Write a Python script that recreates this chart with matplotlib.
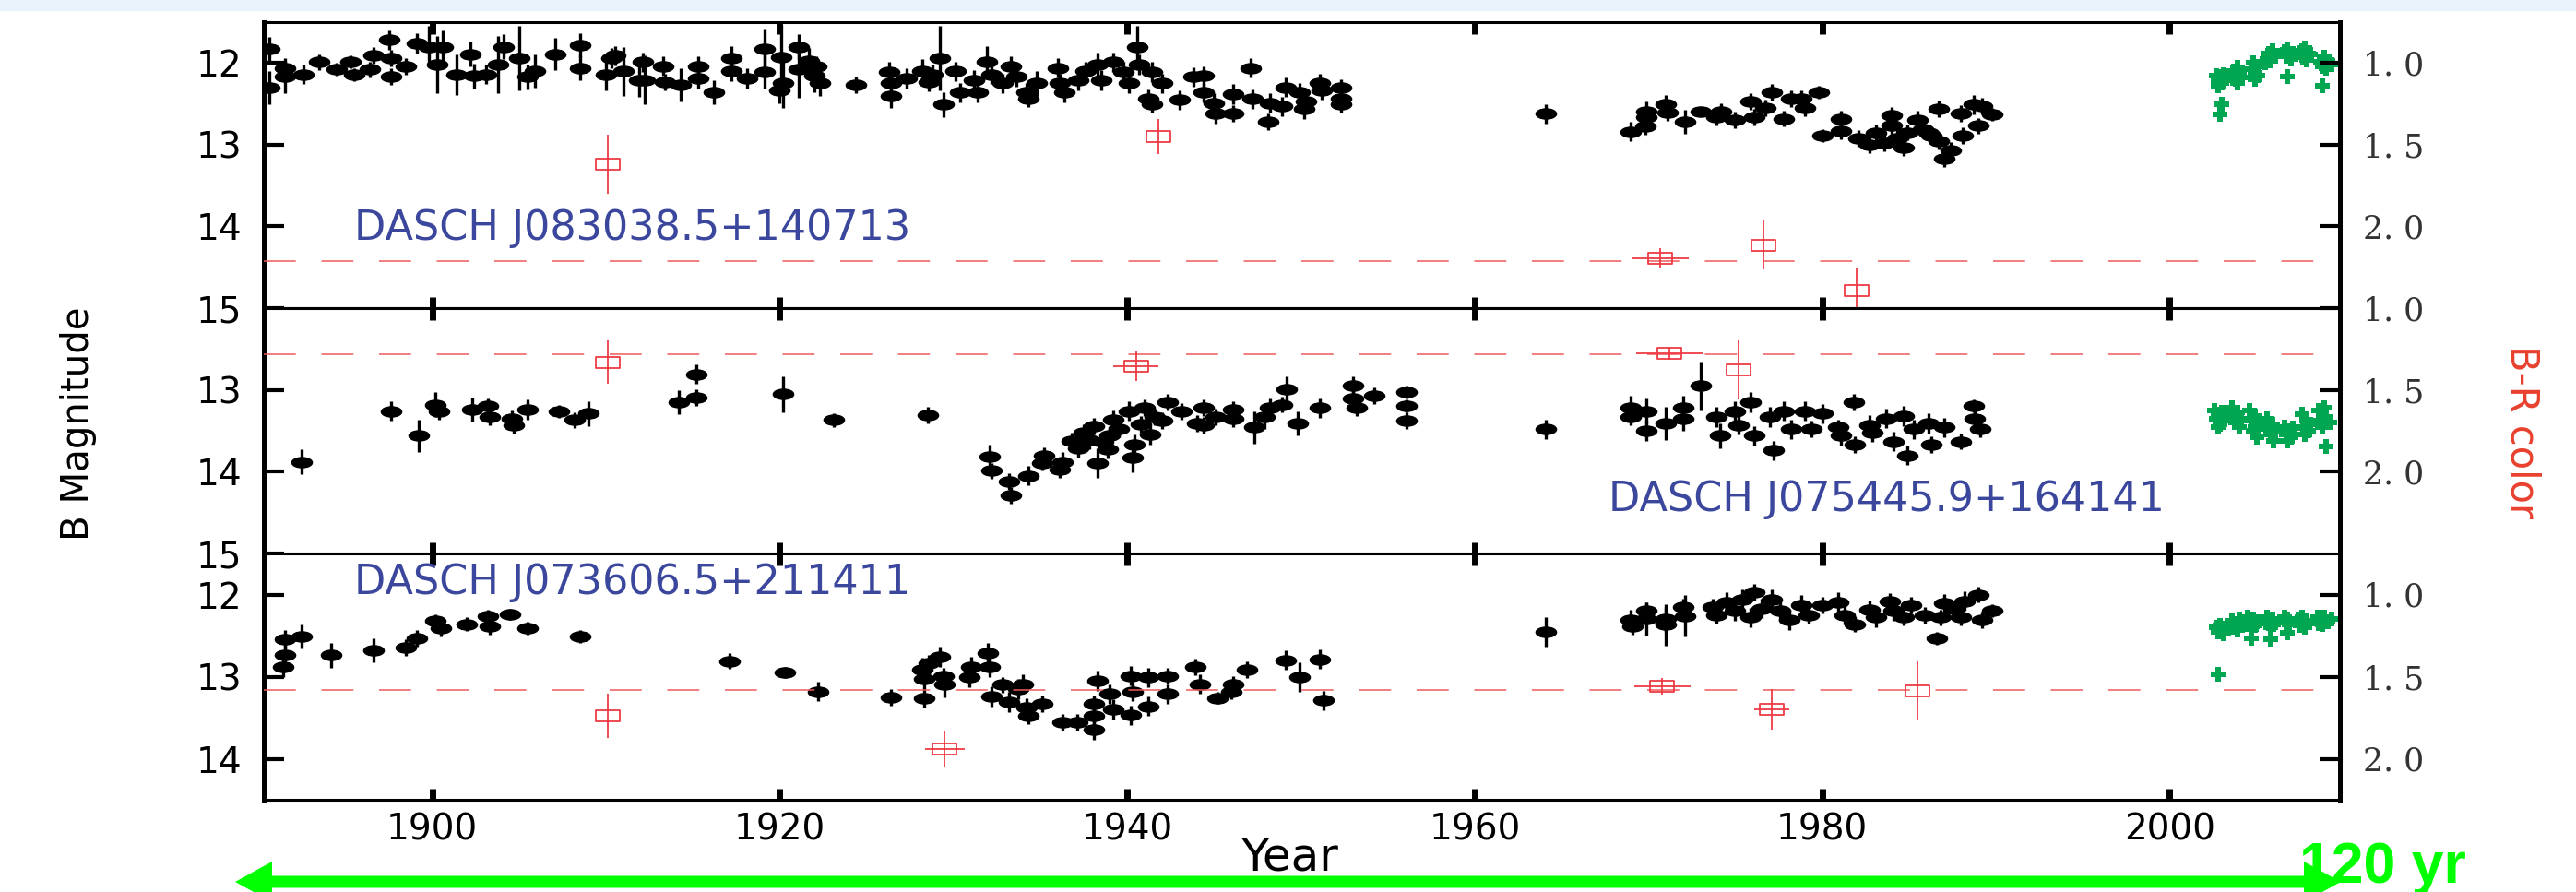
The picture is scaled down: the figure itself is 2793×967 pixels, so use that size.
import numpy as np
import matplotlib
matplotlib.use('Agg')
import matplotlib.pyplot as plt
from matplotlib.path import Path
from matplotlib.transforms import Affine2D, IdentityTransform
from matplotlib.patches import FancyArrow, Rectangle

plt.rcParams['lines.scale_dashes'] = False

# ---------------- data ----------------
# black DASCH points: (year, B mag, error)
p1_points = [
    (1890.6, 11.83, 0.15), (1890.6, 12.30, 0.20), (1891.5, 12.06, 0.12), (1891.5, 12.17, 0.20),
    (1892.6, 12.14, 0.12), (1893.5, 11.99, 0.10), (1894.5, 12.08, 0.08), (1895.3, 11.99, 0.08),
    (1895.5, 12.14, 0.08), (1896.4, 12.08, 0.10), (1896.6, 11.91, 0.10), (1897.5, 11.72, 0.12),
    (1897.6, 11.94, 0.10), (1897.6, 12.17, 0.10), (1898.5, 12.04, 0.10), (1899.1, 11.76, 0.12),
    (1899.8, 11.80, 0.25), (1900.3, 12.02, 0.35), (1900.6, 11.80, 0.20), (1901.4, 12.14, 0.25),
    (1902.2, 11.89, 0.15), (1902.4, 12.16, 0.15), (1903.1, 12.14, 0.12), (1903.8, 12.02, 0.35),
    (1904.1, 11.80, 0.15), (1905.0, 11.94, 0.40), (1905.5, 12.17, 0.15), (1905.9, 12.10, 0.20),
    (1907.1, 11.89, 0.20), (1908.5, 11.78, 0.15), (1908.5, 12.06, 0.15), (1910.0, 12.14, 0.20),
    (1910.5, 11.91, 0.12), (1911.9, 12.21, 0.20), (1910.3, 11.94, 0.12), (1911.0, 12.10, 0.30),
    (1912.1, 11.99, 0.12), (1912.2, 12.21, 0.30), (1913.3, 12.04, 0.12), (1913.4, 12.23, 0.10),
    (1914.3, 12.27, 0.20), (1915.3, 12.04, 0.12), (1915.3, 12.19, 0.12), (1916.2, 12.36, 0.15),
    (1917.2, 11.94, 0.15), (1917.2, 12.10, 0.12), (1918.1, 12.19, 0.12), (1919.1, 11.83, 0.25),
    (1919.1, 12.11, 0.20), (1920.1, 11.93, 0.40), (1920.2, 12.25, 0.30), (1920.0, 12.34, 0.15),
    (1921.1, 11.80, 0.15), (1921.1, 12.08, 0.35), (1921.7, 11.97, 0.15), (1922.0, 12.16, 0.20),
    (1922.3, 12.25, 0.15), (1922.1, 12.04, 0.12), (1924.4, 12.27, 0.10), (1926.3, 12.11, 0.12),
    (1926.4, 12.25, 0.12), (1926.4, 12.40, 0.15), (1927.3, 12.19, 0.12), (1928.2, 12.10, 0.15),
    (1928.6, 12.23, 0.12), (1929.2, 11.94, 0.40), (1929.4, 12.51, 0.15), (1928.8, 12.14, 0.12),
    (1930.1, 12.10, 0.12), (1930.4, 12.36, 0.12), (1931.2, 12.21, 0.12), (1931.4, 12.36, 0.12),
    (1931.9, 11.99, 0.20), (1932.2, 12.14, 0.12), (1932.8, 12.25, 0.12), (1933.3, 12.04, 0.12),
    (1933.6, 12.17, 0.12), (1934.2, 12.36, 0.12), (1934.3, 12.44, 0.10), (1934.8, 12.25, 0.15),
    (1936.0, 12.06, 0.12), (1936.1, 12.25, 0.12), (1936.4, 12.36, 0.12), (1937.2, 12.21, 0.12),
    (1937.6, 12.10, 0.12), (1938.3, 12.02, 0.15), (1938.5, 12.21, 0.12), (1939.2, 11.99, 0.12),
    (1939.8, 12.11, 0.12), (1940.1, 12.25, 0.12), (1940.6, 11.80, 0.25), (1940.7, 12.02, 0.12),
    (1941.2, 12.44, 0.12), (1941.4, 12.51, 0.10), (1941.4, 12.11, 0.12), (1942.0, 12.25, 0.12),
    (1943.0, 12.45, 0.12), (1943.8, 12.17, 0.12), (1944.4, 12.16, 0.12), (1944.4, 12.36, 0.12),
    (1945.0, 12.49, 0.12), (1945.1, 12.62, 0.12), (1946.1, 12.62, 0.10), (1946.1, 12.38, 0.12),
    (1947.1, 12.06, 0.12), (1947.2, 12.44, 0.12), (1948.1, 12.72, 0.10), (1948.2, 12.49, 0.12),
    (1948.9, 12.53, 0.12), (1949.1, 12.30, 0.12), (1949.9, 12.36, 0.12), (1950.2, 12.56, 0.12),
    (1950.3, 12.47, 0.12), (1951.1, 12.25, 0.12), (1951.2, 12.33, 0.12), (1952.3, 12.30, 0.10),
    (1952.3, 12.44, 0.10), (1952.3, 12.51, 0.10), (1964.1, 12.62, 0.12), (1969.0, 12.84, 0.12),
    (1969.8, 12.78, 0.10), (1969.9, 12.59, 0.12), (1969.9, 12.66, 0.12), (1971.0, 12.51, 0.12),
    (1971.1, 12.61, 0.10), (1972.1, 12.72, 0.15), (1973.0, 12.59, 0.05), (1973.9, 12.66, 0.10),
    (1974.2, 12.59, 0.10), (1975.0, 12.70, 0.10), (1975.9, 12.47, 0.10), (1976.1, 12.66, 0.10),
    (1976.7, 12.55, 0.10), (1977.1, 12.36, 0.10), (1977.8, 12.68, 0.10), (1978.2, 12.44, 0.10),
    (1978.8, 12.44, 0.10), (1979.0, 12.55, 0.10), (1979.8, 12.36, 0.08), (1980.0, 12.89, 0.08),
    (1981.1, 12.68, 0.10), (1981.1, 12.83, 0.10), (1982.1, 12.92, 0.10), (1982.7, 13.00, 0.10),
    (1983.1, 12.85, 0.10), (1983.6, 12.98, 0.10), (1984.0, 12.64, 0.10), (1984.0, 12.77, 0.12),
    (1984.3, 12.92, 0.10), (1984.7, 13.04, 0.10), (1984.9, 12.85, 0.10), (1985.5, 12.70, 0.12),
    (1985.8, 12.81, 0.10), (1986.1, 12.85, 0.10), (1986.3, 12.89, 0.10), (1986.7, 12.56, 0.10),
    (1986.7, 12.96, 0.10), (1987.0, 13.17, 0.10), (1987.4, 13.07, 0.10), (1988.0, 12.62, 0.10),
    (1988.1, 12.89, 0.10), (1988.7, 12.51, 0.12), (1989.0, 12.77, 0.10), (1989.2, 12.53, 0.10),
    (1989.8, 12.63, 0.08),
]

p2_points = [
    (1892.5, 13.88, 0.15), (1897.6, 13.26, 0.12), (1899.2, 13.56, 0.20), (1900.2, 13.18, 0.15),
    (1900.4, 13.26, 0.10), (1902.3, 13.24, 0.15), (1903.2, 13.20, 0.10), (1903.3, 13.33, 0.10),
    (1904.6, 13.35, 0.10), (1904.7, 13.43, 0.10), (1905.5, 13.24, 0.12), (1907.3, 13.26, 0.08),
    (1908.2, 13.37, 0.10), (1909.0, 13.29, 0.15), (1914.2, 13.15, 0.15), (1915.2, 12.81, 0.12),
    (1915.2, 13.09, 0.10), (1920.2, 13.05, 0.22), (1923.1, 13.37, 0.08), (1928.5, 13.31, 0.10),
    (1932.1, 13.82, 0.15), (1932.2, 13.99, 0.10), (1933.2, 14.12, 0.10), (1933.3, 14.29, 0.10),
    (1934.3, 14.05, 0.12), (1935.1, 13.89, 0.10), (1935.2, 13.80, 0.10), (1936.1, 13.97, 0.10),
    (1936.3, 13.88, 0.12), (1937.2, 13.71, 0.12), (1937.8, 13.61, 0.12), (1938.3, 13.89, 0.18),
    (1939.0, 13.56, 0.12), (1940.3, 13.83, 0.18), (1940.4, 13.67, 0.12), (1938.1, 13.44, 0.10),
    (1939.2, 13.37, 0.12), (1940.1, 13.26, 0.12), (1941.0, 13.22, 0.10), (1941.6, 13.33, 0.10),
    (1942.3, 13.15, 0.10), (1943.1, 13.26, 0.10), (1944.0, 13.41, 0.10), (1936.8, 13.62, 0.10),
    (1937.5, 13.52, 0.10), (1938.6, 13.63, 0.12), (1939.5, 13.48, 0.10), (1940.8, 13.42, 0.10),
    (1941.3, 13.55, 0.12), (1942.0, 13.38, 0.10), (1938.9, 13.72, 0.12), (1944.4, 13.22, 0.10),
    (1944.4, 13.43, 0.10), (1945.1, 13.33, 0.10), (1946.1, 13.24, 0.10), (1946.1, 13.35, 0.10),
    (1947.3, 13.46, 0.20), (1947.9, 13.33, 0.15), (1948.2, 13.22, 0.12), (1948.9, 13.18, 0.10),
    (1949.2, 12.99, 0.15), (1949.8, 13.41, 0.15), (1951.1, 13.22, 0.12), (1953.0, 12.95, 0.12),
    (1953.0, 13.10, 0.12), (1953.2, 13.22, 0.10), (1954.2, 13.07, 0.10), (1956.1, 13.03, 0.08),
    (1956.1, 13.20, 0.08), (1956.1, 13.38, 0.10), (1964.1, 13.48, 0.12), (1969.0, 13.22, 0.15),
    (1969.0, 13.33, 0.10), (1969.9, 13.26, 0.15), (1969.9, 13.50, 0.12), (1971.0, 13.41, 0.20),
    (1972.0, 13.22, 0.15), (1972.0, 13.35, 0.15), (1973.0, 12.95, 0.30), (1973.9, 13.33, 0.12),
    (1974.1, 13.56, 0.15), (1975.0, 13.26, 0.12), (1975.2, 13.43, 0.12), (1975.9, 13.15, 0.12),
    (1976.1, 13.56, 0.12), (1977.0, 13.33, 0.12), (1977.2, 13.74, 0.12), (1977.8, 13.26, 0.12),
    (1978.2, 13.48, 0.12), (1979.0, 13.26, 0.12), (1979.4, 13.48, 0.10), (1980.0, 13.29, 0.12),
    (1980.9, 13.46, 0.10), (1981.1, 13.56, 0.12), (1981.8, 13.15, 0.10), (1981.9, 13.67, 0.10),
    (1982.7, 13.43, 0.12), (1982.9, 13.52, 0.12), (1983.7, 13.35, 0.12), (1984.1, 13.63, 0.12),
    (1984.7, 13.32, 0.12), (1984.9, 13.80, 0.12), (1985.3, 13.48, 0.12), (1986.1, 13.41, 0.12),
    (1986.3, 13.67, 0.10), (1987.0, 13.46, 0.12), (1988.0, 13.63, 0.10), (1988.7, 13.20, 0.08),
    (1989.1, 13.48, 0.10), (1988.8, 13.35, 0.12),
]

p3_points = [
    (1891.4, 12.88, 0.12), (1891.5, 12.74, 0.15), (1891.5, 12.55, 0.12), (1892.5, 12.51, 0.15),
    (1894.2, 12.74, 0.15), (1896.6, 12.68, 0.15), (1898.5, 12.65, 0.10), (1899.1, 12.53, 0.10),
    (1900.2, 12.32, 0.08), (1900.5, 12.41, 0.10), (1902.0, 12.36, 0.08), (1903.2, 12.26, 0.08),
    (1903.3, 12.39, 0.10), (1904.5, 12.24, 0.07), (1905.5, 12.41, 0.08), (1908.5, 12.51, 0.08),
    (1917.1, 12.81, 0.10), (1920.3, 12.95, 0.07), (1922.2, 13.18, 0.12), (1926.4, 13.25, 0.10),
    (1928.3, 13.26, 0.12), (1928.2, 12.92, 0.15), (1928.3, 13.03, 0.12), (1928.6, 12.84, 0.10),
    (1929.2, 12.76, 0.12), (1929.4, 12.99, 0.10), (1929.5, 13.10, 0.15), (1930.9, 13.01, 0.12),
    (1931.0, 12.88, 0.12), (1932.0, 12.71, 0.12), (1932.1, 12.88, 0.12), (1932.2, 13.24, 0.12),
    (1932.8, 13.10, 0.10), (1933.2, 13.31, 0.12), (1933.7, 13.15, 0.12), (1934.0, 13.09, 0.12),
    (1934.2, 13.38, 0.12), (1934.3, 13.48, 0.10), (1935.1, 13.33, 0.10), (1936.3, 13.56, 0.10),
    (1937.1, 13.56, 0.10), (1938.1, 13.65, 0.12), (1938.1, 13.48, 0.10), (1938.1, 13.33, 0.10),
    (1938.3, 13.05, 0.12), (1939.0, 13.21, 0.12), (1939.2, 13.40, 0.12), (1940.2, 12.99, 0.12),
    (1940.2, 13.47, 0.12), (1940.3, 13.18, 0.12), (1941.2, 13.01, 0.12), (1941.2, 13.36, 0.12),
    (1942.3, 12.99, 0.10), (1942.3, 13.21, 0.12), (1943.9, 12.88, 0.10), (1944.2, 13.09, 0.12),
    (1945.2, 13.26, 0.07), (1946.0, 13.18, 0.10), (1946.1, 13.09, 0.10), (1946.9, 12.92, 0.10),
    (1949.1, 12.80, 0.12), (1949.9, 13.01, 0.18), (1951.1, 12.79, 0.12), (1951.3, 13.29, 0.12),
    (1964.1, 12.46, 0.18), (1969.0, 12.31, 0.12), (1969.1, 12.39, 0.10), (1969.9, 12.20, 0.10),
    (1969.9, 12.30, 0.20), (1971.0, 12.30, 0.15), (1971.0, 12.37, 0.25), (1972.0, 12.15, 0.10),
    (1972.1, 12.26, 0.25), (1973.7, 12.15, 0.10), (1973.9, 12.25, 0.10), (1974.5, 12.09, 0.12),
    (1975.0, 12.20, 0.12), (1975.4, 12.06, 0.12), (1975.9, 12.28, 0.12), (1976.1, 11.97, 0.10),
    (1976.5, 12.17, 0.12), (1977.1, 12.06, 0.12), (1977.6, 12.20, 0.12), (1978.1, 12.31, 0.12),
    (1978.8, 12.13, 0.12), (1979.2, 12.25, 0.10), (1980.0, 12.13, 0.10), (1980.9, 12.09, 0.12),
    (1981.3, 12.25, 0.12), (1981.9, 12.36, 0.10), (1982.7, 12.19, 0.12), (1983.1, 12.28, 0.12),
    (1983.9, 12.08, 0.10), (1984.1, 12.20, 0.12), (1984.7, 12.28, 0.10), (1985.1, 12.13, 0.10),
    (1985.9, 12.25, 0.10), (1986.6, 12.53, 0.08), (1986.8, 12.28, 0.10), (1987.0, 12.11, 0.12),
    (1987.6, 12.17, 0.10), (1988.0, 12.28, 0.10), (1988.2, 12.08, 0.12), (1989.0, 12.00, 0.10),
    (1989.2, 12.31, 0.10), (1989.8, 12.20, 0.08),
]

# green modern points: (year, B mag)
p1_green = [
    (2002.7, 12.15), (2002.8, 12.22), (2002.9, 12.17), (2003.0, 12.25), (2003.1, 12.14), (2002.8, 12.28),
    (2003.0, 12.20), (2003.6, 12.16), (2003.7, 12.10), (2003.8, 12.20), (2003.9, 12.05), (2004.0, 12.14),
    (2004.1, 12.18), (2003.9, 12.24), (2004.7, 12.08), (2004.8, 12.00), (2004.9, 12.12), (2005.0, 12.04),
    (2005.1, 12.15), (2004.9, 12.20), (2005.5, 12.00), (2005.6, 11.95), (2005.7, 11.88), (2005.8, 11.97),
    (2005.9, 11.85), (2006.0, 11.92), (2006.6, 11.86), (2006.7, 11.92), (2006.8, 11.84), (2006.9, 11.90),
    (2007.0, 11.95), (2007.1, 11.88), (2007.6, 11.85), (2007.7, 11.93), (2007.8, 11.82), (2007.9, 11.96),
    (2008.0, 11.88), (2008.1, 11.90), (2008.7, 11.98), (2008.8, 12.04), (2008.9, 11.93), (2009.0, 12.06),
    (2009.1, 11.97), (2009.3, 12.02), (2003.0, 12.51), (2002.9, 12.63), (2006.8, 12.17), (2008.8, 12.28),
]
p2_green = [
    (2002.6, 13.25), (2002.7, 13.35), (2002.8, 13.30), (2002.9, 13.42), (2003.0, 13.28), (2003.1, 13.38),
    (2002.8, 13.45), (2003.6, 13.22), (2003.7, 13.32), (2003.8, 13.40), (2003.9, 13.27), (2004.0, 13.45),
    (2004.1, 13.35), (2004.6, 13.25), (2004.7, 13.38), (2004.8, 13.50), (2004.9, 13.32), (2005.0, 13.58),
    (2005.1, 13.42), (2004.9, 13.45), (2005.6, 13.35), (2005.7, 13.48), (2005.8, 13.55), (2005.9, 13.42),
    (2006.0, 13.62), (2006.1, 13.50), (2006.6, 13.45), (2006.7, 13.55), (2006.8, 13.62), (2006.9, 13.50),
    (2007.0, 13.58), (2007.1, 13.47), (2007.6, 13.30), (2007.7, 13.45), (2007.8, 13.55), (2007.9, 13.38),
    (2008.0, 13.50), (2008.1, 13.42), (2008.6, 13.25), (2008.7, 13.38), (2008.8, 13.45), (2008.9, 13.22),
    (2009.0, 13.33), (2009.2, 13.40), (2009.0, 13.69),
]
p3_green = [
    (2002.7, 12.40), (2002.8, 12.46), (2002.9, 12.38), (2003.0, 12.44), (2003.1, 12.48), (2003.2, 12.41),
    (2003.6, 12.32), (2003.7, 12.40), (2003.8, 12.36), (2003.9, 12.43), (2004.0, 12.30), (2004.1, 12.38),
    (2004.5, 12.28), (2004.6, 12.36), (2004.7, 12.42), (2004.8, 12.30), (2004.9, 12.38), (2005.0, 12.33),
    (2005.6, 12.27), (2005.7, 12.35), (2005.8, 12.40), (2005.9, 12.30), (2006.0, 12.36), (2006.6, 12.28),
    (2006.7, 12.34), (2006.8, 12.30), (2006.9, 12.37), (2007.4, 12.30), (2007.5, 12.38), (2007.6, 12.27),
    (2007.7, 12.35), (2007.8, 12.40), (2007.9, 12.32), (2008.5, 12.28), (2008.6, 12.35), (2008.7, 12.30),
    (2008.8, 12.37), (2008.9, 12.27), (2009.1, 12.33), (2009.3, 12.30), (2004.7, 12.53), (2005.8, 12.55),
    (2006.8, 12.47), (2002.8, 12.97),
]

# red B-R colour points: (year, B-R, year err, colour err)
p1_color = [(1910.1, 1.62, 0.0, 0.18), (1941.8, 1.45, 0.0, 0.11), (1970.7, 2.195, 1.6, 0.06),
            (1976.6, 2.115, 0.0, 0.15), (1982.0, 2.39, 0.0, 0.13)]
p2_color = [(1910.1, 1.33, 0.0, 0.135), (1940.5, 1.355, 1.3, 0.09), (1971.2, 1.275, 1.9, 0.04),
            (1975.2, 1.38, 0.0, 0.18)]
p3_color = [(1910.1, 1.74, 0.0, 0.135), (1929.5, 1.94, 1.15, 0.11), (1970.8, 1.56, 1.6, 0.05),
            (1977.1, 1.70, 1.0, 0.125), (1985.5, 1.585, 0.0, 0.18)]
mean_color = [2.21, 1.28, 1.58]

names = ['DASCH J083038.5+140713', 'DASCH J075445.9+164141', 'DASCH J073606.5+211411']
mag_lims = [(15, 11.5), (15, 12), (14.5, 11.5)]
mag_ticks = [[12, 13, 14, 15], [13, 14, 15], [12, 13, 14]]
color_ticks = [1.0, 1.5, 2.0]
color_ticklabels = ['1. 0', '1. 5', '2. 0']
year_ticks = [1900, 1920, 1940, 1960, 1980, 2000]

# ---------------- figure ----------------
W, H = 2793, 967
fig = plt.figure(figsize=(W / 100, H / 100), dpi=100)
fig.add_artist(Rectangle((0, 1 - 12 / H), 1, 12 / H, transform=fig.transFigure,
                         facecolor='#eaf2fb', edgecolor='none', zorder=0))

ellipse = Path.unit_circle().transformed(Affine2D().scale(1.0, 0.5))
box = Path([(-1, -0.45), (1, -0.45), (1, 0.45), (-1, 0.45), (-1, -0.45)],
           [Path.MOVETO, Path.LINETO, Path.LINETO, Path.LINETO, Path.CLOSEPOLY])

red = '#ee3b45'
green = '#00a651'
blue = '#3a479c'

left = 286 / W
width = (2537 - 286) / W
panel_px = [(24, 334), (334, 600), (600, 867)]

all_points = [p1_points, p2_points, p3_points]
all_green = [p1_green, p2_green, p3_green]
all_color = [p1_color, p2_color, p3_color]
label_pos = [(1895.5, 14.02, 'left'), (1999.7, 14.34, 'right'), (1895.5, 11.85, 'left')]

for i in range(3):
    top_px, bot_px = panel_px[i]
    ax = fig.add_axes([left, 1 - bot_px / H, width, (bot_px - top_px) / H])

    yr, mag, err = zip(*all_points[i])
    ax.errorbar(yr, mag, yerr=err, fmt='none', ecolor='k', elinewidth=2.4, capsize=0, zorder=2)
    ax.plot(yr, mag, ls='none', marker=ellipse, ms=16, color='k', zorder=3)

    gyr, gmag = zip(*all_green[i])
    ax.plot(gyr, gmag, ls='none', marker='P', ms=11, mew=0, color=green, zorder=3)

    tx, ty, ha = label_pos[i]
    ax.text(tx, ty, names[i], color=blue, fontsize=32, ha=ha, va='center')

    ax.set_xlim(1890.3, 2009.8)
    ax.set_ylim(*mag_lims[i])
    ax.set_yticks(mag_ticks[i])
    ax.set_xticks(year_ticks)
    ax.tick_params(axis='y', direction='in', length=16, width=3, labelsize=28, pad=17,
                   left=True, right=False)
    ax.tick_params(axis='x', direction='in', length=9, width=5, labelsize=28, pad=10,
                   top=True, bottom=True, labelbottom=(i == 2))
    ax.spines['left'].set_linewidth(3.6)
    ax.spines['top'].set_linewidth(2.2)
    ax.spines['bottom'].set_linewidth(2.2)
    ax.spines['right'].set_visible(False)

    # B-R colour on the right: colour = 1 + (mag - 12) / 2
    ax2 = ax.twinx()
    ax2.set_ylim(1 + (mag_lims[i][0] - 12) / 2, 1 + (mag_lims[i][1] - 12) / 2)
    ax2.axhline(mean_color[i], color='#f05a5a', lw=1.1, dashes=(25, 20), zorder=1)
    cyr, col, cxe, cye = zip(*all_color[i])
    ax2.errorbar(cyr, col, xerr=cxe, yerr=cye, fmt='none', ecolor=red, elinewidth=1.3,
                 capsize=0, zorder=4)
    ax2.plot(cyr, col, ls='none', marker=box, ms=19, mfc='none', mec=red, mew=1.3, zorder=5)
    ax2.set_yticks(color_ticks)
    ax2.set_yticklabels(color_ticklabels, family='DejaVu Serif')
    ax2.tick_params(axis='y', direction='in', length=16, width=3, labelsize=25, pad=18,
                    labelcolor='#333333')
    for s in ['left', 'top', 'bottom']:
        ax2.spines[s].set_visible(False)
    ax2.spines['right'].set_linewidth(3.6)

fig.text(85 / W, 1 - 459 / H, 'B Magnitude', rotation=90, ha='center', va='center',
         fontsize=29, family=['Liberation Sans Narrow', 'DejaVu Sans'])
fig.text(2734 / W, 1 - 468 / H, 'B-R color', rotation=-90, ha='center', va='center',
         fontsize=30, color='#e8402e', family=['Liberation Sans Narrow', 'DejaVu Sans'])
fig.text(1398 / W, 1 - 930 / H, 'Year', ha='center', va='center', fontsize=36)

# green 120-year arrow along the bottom, in pixel units
ymid = H - 956
xmid = (255 + 2538) / 2
for x_end in (2538, 255):
    fig.add_artist(FancyArrow(xmid, ymid, x_end - xmid, 0, width=13, head_width=44,
                              head_length=40, length_includes_head=True, color='#00ff00',
                              lw=0, transform=IdentityTransform(), zorder=8))
fig.text(2493 / W, 1 - 957 / H, '120 yr', fontsize=45, fontweight='bold', color='#00ff00',
         family=['Liberation Sans', 'DejaVu Sans'], ha='left', va='baseline', zorder=10)

fig.savefig('out.png', dpi=100)
plt.close(fig)
